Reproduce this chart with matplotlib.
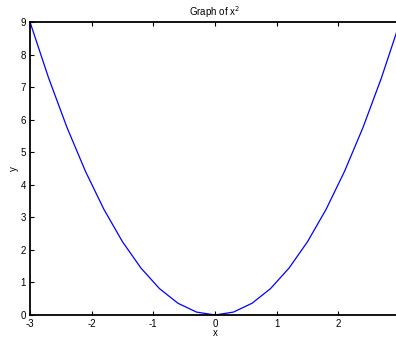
import matplotlib
matplotlib.use("Agg")
import matplotlib.pyplot as plt

# sampled points of the curve
x_vals = [-3.0, -2.7, -2.4, -2.1, -1.8, -1.5, -1.2, -0.9, -0.6, -0.3, 0.0,
          0.3, 0.6, 0.9, 1.2, 1.5, 1.8, 2.1, 2.4, 2.7, 3.0]
y_vals = [9.0, 7.29, 5.76, 4.41, 3.24, 2.25, 1.44, 0.81, 0.36, 0.09, 0.0,
          0.09, 0.36, 0.81, 1.44, 2.25, 3.24, 4.41, 5.76, 7.29, 9.0]
x_ticks = [-3, -2, -1, 0, 1, 2]
y_ticks = [0, 1, 2, 3, 4, 5, 6, 7, 8, 9]

plt.rcParams['font.family'] = ['Liberation Sans', 'DejaVu Sans']
plt.rcParams['axes.unicode_minus'] = False

W, H = 396, 337
fig = plt.figure(figsize=(W / 100, H / 100), dpi=100)
# axes runs slightly past the right edge (the original is cropped there)
ax = fig.add_axes([30 / W, 1 - 315 / H, 370 / W, 293 / H])

ax.plot(x_vals, y_vals, color='#0000ff', linewidth=0.9)

ax.set_xlim(-3, 3)
ax.set_ylim(0, 9)
ax.set_xticks(x_ticks)
ax.set_yticks(y_ticks)
ax.set_xticklabels([str(t) for t in x_ticks])
ax.set_yticklabels([str(t) for t in y_ticks])
ax.tick_params(direction='in', length=3, width=0.8, labelsize=7, pad=3,
               top=True, right=True)
for s in ax.spines.values():
    s.set_linewidth(1.3)

ax.set_title('Graph of x$^2$', fontsize=7, pad=4)
ax.set_xlabel('x', fontsize=7, labelpad=-1)
ax.set_ylabel('y', fontsize=7, labelpad=1)

fig.savefig('out.png', dpi=100)
